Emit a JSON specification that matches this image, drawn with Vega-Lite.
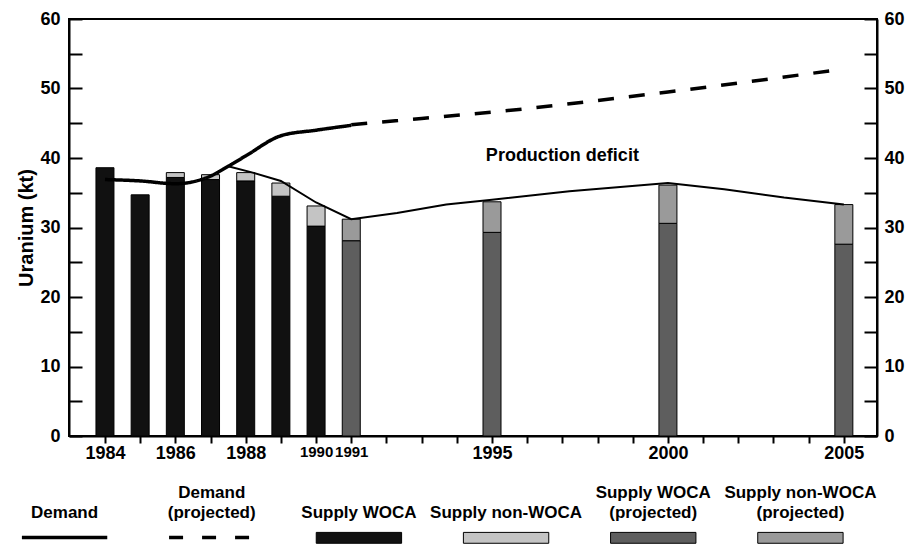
{
  "$schema": "https://vega.github.io/schema/vega-lite/v6.json",
  "background": "white",
  "padding": {"left": 15, "top": 9, "right": 0, "bottom": 0},
  "config": {
    "font": "Liberation Sans",
    "concat": {"spacing": 15},
    "axis": {"labelColor": "black", "titleColor": "black", "domainColor": "black", "tickColor": "black", "grid": false, "labelFontWeight": "bold", "titleFontWeight": "bold"},
    "axisX": {"labelOverlap": false}
  },
  "datasets": {
    "supply": [
      {"year": 1984, "type": "Supply WOCA", "value": 38.6},
      {"year": 1985, "type": "Supply WOCA", "value": 34.7},
      {"year": 1986, "type": "Supply WOCA", "value": 37.2},
      {"year": 1986, "type": "Supply non-WOCA", "value": 0.7},
      {"year": 1987, "type": "Supply WOCA", "value": 36.9},
      {"year": 1987, "type": "Supply non-WOCA", "value": 0.7},
      {"year": 1988, "type": "Supply WOCA", "value": 36.7},
      {"year": 1988, "type": "Supply non-WOCA", "value": 1.2},
      {"year": 1989, "type": "Supply WOCA", "value": 34.5},
      {"year": 1989, "type": "Supply non-WOCA", "value": 1.9},
      {"year": 1990, "type": "Supply WOCA", "value": 30.2},
      {"year": 1990, "type": "Supply non-WOCA", "value": 2.9},
      {"year": 1991, "type": "Supply WOCA (projected)", "value": 28.1},
      {"year": 1991, "type": "Supply non-WOCA (projected)", "value": 3.1},
      {"year": 1995, "type": "Supply WOCA (projected)", "value": 29.3},
      {"year": 1995, "type": "Supply non-WOCA (projected)", "value": 4.4},
      {"year": 2000, "type": "Supply WOCA (projected)", "value": 30.6},
      {"year": 2000, "type": "Supply non-WOCA (projected)", "value": 5.5},
      {"year": 2005, "type": "Supply WOCA (projected)", "value": 27.6},
      {"year": 2005, "type": "Supply non-WOCA (projected)", "value": 5.7}
    ],
    "demand": [
      {"year": 1984, "value": 36.9, "series": "Demand"},
      {"year": 1985, "value": 36.7, "series": "Demand"},
      {"year": 1986, "value": 36.3, "series": "Demand"},
      {"year": 1987, "value": 37.4, "series": "Demand"},
      {"year": 1987.5, "value": 38.8, "series": "Demand"},
      {"year": 1988, "value": 40.3, "series": "Demand"},
      {"year": 1989, "value": 43.2, "series": "Demand"},
      {"year": 1990, "value": 44.0, "series": "Demand"},
      {"year": 1991, "value": 44.7, "series": "Demand"},
      {"year": 1991, "value": 44.8, "series": "Demand (projected)"},
      {"year": 1993, "value": 45.7, "series": "Demand (projected)"},
      {"year": 1995, "value": 46.6, "series": "Demand (projected)"},
      {"year": 2000, "value": 49.5, "series": "Demand (projected)"},
      {"year": 2005, "value": 52.8, "series": "Demand (projected)"}
    ],
    "totalSupply": [
      {"year": 1987.5, "value": 38.8},
      {"year": 1988.2, "value": 37.9},
      {"year": 1989, "value": 36.7},
      {"year": 1990, "value": 33.6},
      {"year": 1991, "value": 31.2},
      {"year": 1992.3, "value": 32.1},
      {"year": 1993.7, "value": 33.3},
      {"year": 1995, "value": 34.0},
      {"year": 1997.2, "value": 35.2},
      {"year": 2000, "value": 36.4},
      {"year": 2001.6, "value": 35.5},
      {"year": 2003.3, "value": 34.3},
      {"year": 2005, "value": 33.3}
    ],
    "notes": [
      {"year": 1997.0, "value": 40.3, "label": "Production deficit"}
    ],
    "legendItems": [
      {"type": "Demand", "line1": "", "line2": "Demand", "kind": "line"},
      {"type": "Demand (projected)", "line1": "Demand", "line2": "(projected)", "kind": "dash"},
      {"type": "Supply WOCA", "line1": "", "line2": "Supply WOCA", "kind": "box"},
      {"type": "Supply non-WOCA", "line1": "", "line2": "Supply non-WOCA", "kind": "box"},
      {"type": "Supply WOCA (projected)", "line1": "Supply WOCA", "line2": "(projected)", "kind": "box"},
      {"type": "Supply non-WOCA (projected)", "line1": "Supply non-WOCA", "line2": "(projected)", "kind": "box"}
    ]
  },
  "vconcat": [
    {
      "width": 808,
      "height": 417,
      "view": {"stroke": "black", "strokeWidth": 2},
      "encoding": {
        "x": {
          "field": "year", "type": "quantitative",
          "scale": {"domain": [1983.12, 2005.8], "nice": false, "zero": false},
          "axis": {
            "title": null,
            "values": [1984,1985,1986,1987,1988,1989,1990,1991,1992,1993,1994,1995,1996,1997,1998,1999,2000,2001,2002,2003,2004,2005],
            "format": "d",
            "labelExpr": "indexof([1984,1986,1988,1990,1991,1995,2000,2005], datum.value) >= 0 ? datum.label : ''",
            "labelFontSize": {"condition": {"test": "datum.value == 1990 || datum.value == 1991", "value": 15}, "value": 18},
            "labelOverlap": false,
            "labelFlush": false,
            "labelBound": false,
            "tickSize": 7,
            "tickWidth": 2,
            "domainWidth": 2,
            "labelPadding": 1
          }
        }
      },
      "layer": [
        {
          "data": {"name": "supply"},
          "mark": {"type": "bar", "size": 18, "stroke": "black", "strokeWidth": 1},
          "encoding": {
            "y": {
              "field": "value", "type": "quantitative", "stack": "zero",
              "scale": {"domain": [0, 60], "nice": false},
              "axis": {
                "orient": "left",
                "title": "Uranium (kt)",
                "titleFontSize": 20,
                "titlePadding": 3,
                "values": [0,5,10,15,20,25,30,35,40,45,50,55,60],
                "labelExpr": "datum.value % 10 == 0 ? datum.label : ''",
                "labelFontSize": 18,
                "tickSize": -13,
                "tickWidth": 2,
                "domainWidth": 2,
                "labelPadding": 22,
                "labelBound": false
              }
            },
            "color": {
              "field": "type", "type": "nominal",
              "scale": {
                "domain": ["Supply WOCA", "Supply non-WOCA", "Supply WOCA (projected)", "Supply non-WOCA (projected)"],
                "range": ["#111111", "#c4c4c4", "#5e5e5e", "#9a9a9a"]
              },
              "legend": null
            },
            "order": {"field": "type", "sort": "ascending"}
          }
        },
        {
          "data": {"name": "demand"},
          "mark": {"type": "line", "color": "black", "strokeWidth": 3.5, "interpolate": "monotone"},
          "encoding": {
            "y": {"field": "value", "type": "quantitative", "axis": null},
            "detail": {"field": "series"},
            "strokeDash": {
              "field": "series", "type": "nominal",
              "scale": {"domain": ["Demand", "Demand (projected)"], "range": [[1, 0], [16, 15]]},
              "legend": null
            }
          }
        },
        {
          "data": {"name": "totalSupply"},
          "mark": {"type": "line", "color": "black", "strokeWidth": 2},
          "encoding": {
            "y": {
              "field": "value", "type": "quantitative",
              "axis": {
                "orient": "right",
                "title": null,
                "values": [0,5,10,15,20,25,30,35,40,45,50,55,60],
                "labelExpr": "datum.value % 10 == 0 ? datum.label : ''",
                "labelFontSize": 18,
                "tickSize": -13,
                "tickWidth": 2,
                "domainWidth": 2,
                "labelPadding": 20,
                "labelBound": false
              }
            }
          }
        },
        {
          "data": {"name": "notes"},
          "mark": {"type": "text", "fontSize": 18, "fontWeight": "bold", "color": "black", "baseline": "middle", "align": "center"},
          "encoding": {
            "y": {"field": "value", "type": "quantitative", "axis": null},
            "text": {"field": "label"}
          }
        }
      ],
      "resolve": {"axis": {"y": "independent"}}
    },
    {
      "width": 808,
      "height": 68,
      "view": {"stroke": null},
      "data": {"name": "legendItems"},
      "encoding": {
        "x": {
          "field": "type", "type": "nominal", "sort": null,
          "scale": {"type": "band", "range": [-78, 805], "paddingInner": 0, "paddingOuter": 0},
          "axis": null
        }
      },
      "layer": [
        {
          "mark": {"type": "text", "fontSize": 17, "fontWeight": "bold", "color": "black", "baseline": "middle", "align": "center"},
          "encoding": {
            "y": {"datum": 0.78, "type": "quantitative", "scale": {"domain": [0, 1], "nice": false}, "axis": null},
            "text": {"field": "line1"}
          }
        },
        {
          "mark": {"type": "text", "fontSize": 17, "fontWeight": "bold", "color": "black", "baseline": "middle", "align": "center"},
          "encoding": {
            "y": {"datum": 0.48},
            "text": {"field": "line2"}
          }
        },
        {
          "transform": [{"filter": "datum.kind == 'box'"}],
          "mark": {"type": "bar", "width": {"band": 0.58}, "stroke": "black", "strokeWidth": 1},
          "encoding": {
            "y": {"datum": 0.2},
            "y2": {"datum": 0.04},
            "color": {"field": "type", "type": "nominal", "legend": null}
          }
        },
        {
          "transform": [{"filter": "datum.kind == 'line'"}],
          "mark": {"type": "rule", "color": "black", "strokeWidth": 3.5},
          "encoding": {
            "x": {"field": "type", "type": "nominal", "sort": null, "bandPosition": 0.21},
            "x2": {"field": "type", "bandPosition": 0.79},
            "y": {"datum": 0.125}
          }
        },
        {
          "transform": [{"filter": "datum.kind == 'dash'"}],
          "mark": {"type": "rule", "color": "black", "strokeWidth": 3.5, "strokeDash": [14, 19]},
          "encoding": {
            "x": {"field": "type", "type": "nominal", "sort": null, "bandPosition": 0.21},
            "x2": {"field": "type", "bandPosition": 0.79},
            "y": {"datum": 0.125}
          }
        }
      ]
    }
  ]
}
